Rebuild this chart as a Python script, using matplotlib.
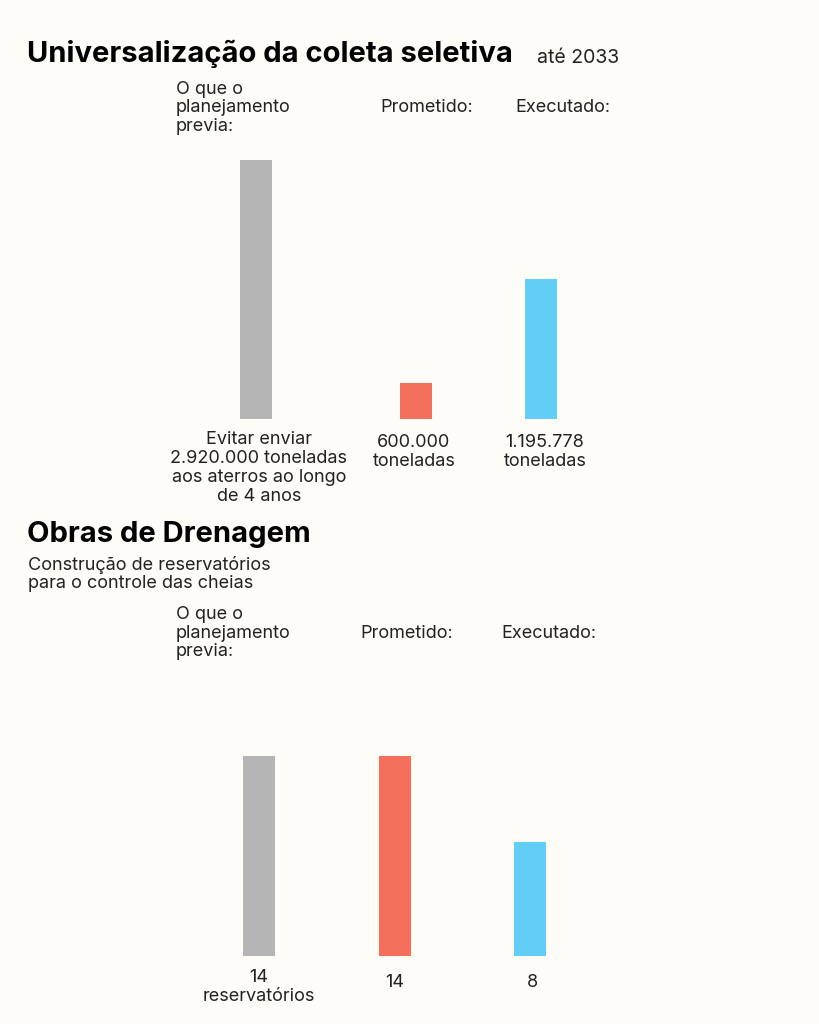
import matplotlib.pyplot as plt

W, H = 819, 1024
BG = "#FDFCF7"
CORES = ["#B5B5B5", "#F4705A", "#62CDF5"]
FONTE = ["Inter", "DejaVu Sans"]

# Universalização da coleta seletiva: altura relativa das barras
coleta_altura = [100, 14, 54]
coleta_rotulos = [
    "Evitar enviar\n2.920.000 toneladas\naos aterros ao longo\nde 4 anos",
    "600.000\ntoneladas",
    "1.195.778\ntoneladas",
]
cabecalhos = ["O que o\nplanejamento\nprevia:", "Prometido:", "Executado:"]

# Obras de Drenagem: número de reservatórios
drenagem_valores = [14, 14, 8]
drenagem_rotulos = ["14\nreservatórios", "14", "8"]

# layout em pixels
coleta_x = [255.5, 416, 541]
drenagem_x = [259, 395, 530]
LARGURA_BARRA = 32
CORPO = 13


def fx(x):
    return x / W


def fy(y):
    return 1 - y / H


def texto(fig, x, y, s, **kw):
    kw.setdefault("family", FONTE)
    kw.setdefault("color", "#222222")
    kw.setdefault("fontsize", CORPO)
    kw.setdefault("linespacing", 1.12)
    fig.text(fx(x), fy(y), s, **kw)


def barras(fig, topo, base, posicoes, valores, vmax):
    ax = fig.add_axes([0, fy(base), 1, (base - topo) / H])
    ax.set_xlim(0, W)
    ax.set_ylim(0, vmax)
    ax.bar(posicoes, valores, width=LARGURA_BARRA, color=CORES)
    ax.axis("off")
    return ax


fig = plt.figure(figsize=(W / 100, H / 100), dpi=100)
fig.patch.set_facecolor(BG)

# bloco 1
texto(fig, 27, 54, "Universalização da coleta seletiva", fontsize=21,
      fontweight="bold", va="center", color="#000000")
texto(fig, 537, 58, "até 2033", fontsize=14, va="center")
texto(fig, 176, 108, cabecalhos[0], va="center")
texto(fig, 380, 108, cabecalhos[1], va="center")
texto(fig, 515, 108, cabecalhos[2], va="center")

barras(fig, 160, 419, coleta_x, coleta_altura, max(coleta_altura))

rotulo_x = [259, 414, 545]
rotulo_y = [431, 434, 434]
for x, y, s in zip(rotulo_x, rotulo_y, coleta_rotulos):
    texto(fig, x, y, s, ha="center", va="top", linespacing=1.16)

# bloco 2
texto(fig, 27, 534, "Obras de Drenagem", fontsize=21, fontweight="bold",
      va="center", color="#000000")
texto(fig, 28, 574, "Construção de reservatórios\npara o controle das cheias",
      va="center")
texto(fig, 176, 633, cabecalhos[0], va="center")
texto(fig, 360, 633, cabecalhos[1], va="center")
texto(fig, 501, 633, cabecalhos[2], va="center")

barras(fig, 756, 956, drenagem_x, drenagem_valores, max(drenagem_valores))

for x, y, s in zip([259, 395, 532], [969, 974, 974], drenagem_rotulos):
    texto(fig, x, y, s, ha="center", va="top", linespacing=1.16)

fig.savefig("out.png", dpi=100, facecolor=BG)
